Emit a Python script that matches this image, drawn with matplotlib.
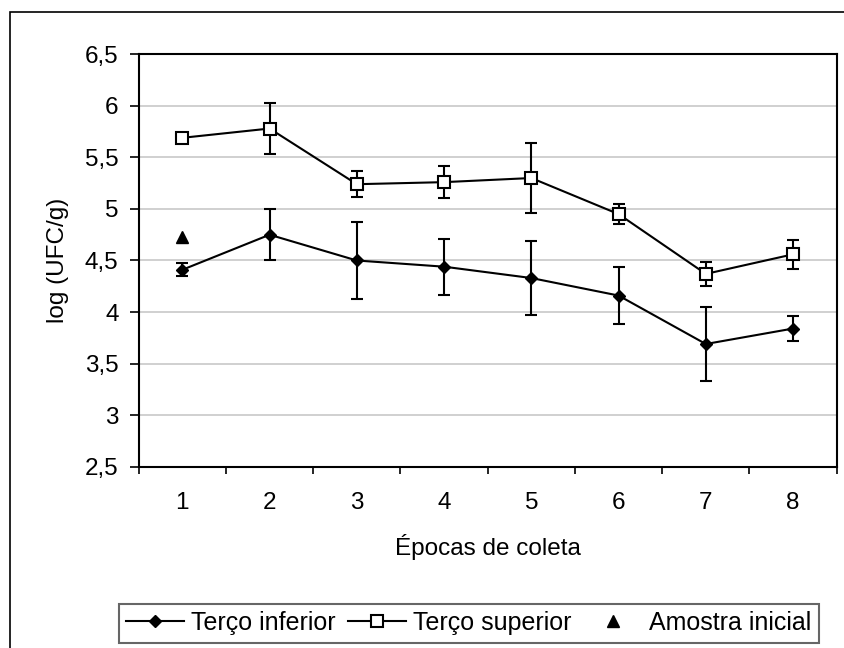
import matplotlib
matplotlib.use('Agg')
import matplotlib.pyplot as plt
from matplotlib.patches import Rectangle
from matplotlib.ticker import FixedLocator, FuncFormatter

plt.rcParams['font.family'] = ['Liberation Sans', 'DejaVu Sans']

epocas = [1, 2, 3, 4, 5, 6, 7, 8]
inferior = [4.41, 4.75, 4.50, 4.44, 4.33, 4.16, 3.69, 3.84]
inferior_err = [0.065, 0.25, 0.37, 0.27, 0.36, 0.28, 0.36, 0.12]
superior = [5.69, 5.78, 5.24, 5.26, 5.30, 4.95, 4.37, 4.56]
superior_err = [0.02, 0.245, 0.125, 0.155, 0.34, 0.095, 0.12, 0.14]
amostra_x = [1]
amostra_y = [4.73]
y_ticks = [2.5, 3, 3.5, 4, 4.5, 5, 5.5, 6, 6.5]

W, H = 844, 648
fig = plt.figure(figsize=(W / 100, H / 100), dpi=100)
fig.patch.set_facecolor('white')

# outer frame, open to the right and bottom
fig.patches.append(Rectangle((10 / W, -0.1), 1.2, 1 - 12 / H + 0.1,
                             transform=fig.transFigure, fill=False,
                             edgecolor='black', linewidth=1.2))

ax = fig.add_axes([138.7 / W, 1 - 466.7 / H, 698 / W, 412.4 / H])

ax.errorbar(epocas, inferior, yerr=inferior_err, fmt='none', ecolor='black',
            elinewidth=1.5, capsize=4.5, capthick=1.5, zorder=3)
ax.errorbar(epocas, superior, yerr=superior_err, fmt='none', ecolor='black',
            elinewidth=1.5, capsize=4.5, capthick=1.5, zorder=3)
l1, = ax.plot(epocas, inferior, color='black', lw=1.5, marker='D', ms=6,
              mfc='black', mec='black', zorder=4, label='Terço inferior')
l2, = ax.plot(epocas, superior, color='black', lw=1.5, marker='s', ms=9,
              mfc='white', mec='black', mew=1.5, zorder=4, label='Terço superior')
l3, = ax.plot(amostra_x, amostra_y, ls='none', marker='^', ms=8.5,
              color='black', zorder=4, label='Amostra inicial')

ax.set_xlim(0.5, 8.5)
ax.set_ylim(2.5, 6.5)
ax.set_yticks(y_ticks)
ax.yaxis.set_major_formatter(FuncFormatter(lambda v, p: ('%g' % v).replace('.', ',')))
ax.grid(axis='y', color='#c8c8c8', lw=1.2, zorder=0)
ax.set_axisbelow(True)

# category axis: ticks between epochs, labels at the centres
ax.xaxis.set_major_locator(FixedLocator([i + 0.5 for i in range(0, 9)]))
ax.xaxis.set_major_formatter(FuncFormatter(lambda v, p: ''))
ax.xaxis.set_minor_locator(FixedLocator(epocas))
ax.xaxis.set_minor_formatter(FuncFormatter(lambda v, p: '%d' % v))
ax.tick_params(axis='x', which='major', direction='out', length=5, width=1.2)
ax.tick_params(axis='x', which='minor', length=0, pad=18, labelsize=17.5)
ax.tick_params(axis='y', direction='out', length=6.5, width=1.2, pad=8, labelsize=17.5)

for s in ax.spines.values():
    s.set_linewidth(1.5)
    s.set_color('black')

ax.set_xlabel('Épocas de coleta', fontsize=17.5)
ax.xaxis.set_label_coords(0.5, -0.162)
ax.set_ylabel('log (UFC/g)', fontsize=17.5)
ax.yaxis.set_label_coords(-0.10, 0.5)

leg = fig.legend(handles=[l1, l2, l3], ncol=3, fontsize=18,
                 loc='center', bbox_to_anchor=(114 / W, 1 - 647 / H, 710 / W, 48 / H),
                 frameon=True, fancybox=False, edgecolor='#404040',
                 handlelength=2.3, handletextpad=0.3, columnspacing=0.5,
                 borderpad=0.3, borderaxespad=0)
leg.get_frame().set_linewidth(1.5)

fig.savefig('out.png', dpi=100)
